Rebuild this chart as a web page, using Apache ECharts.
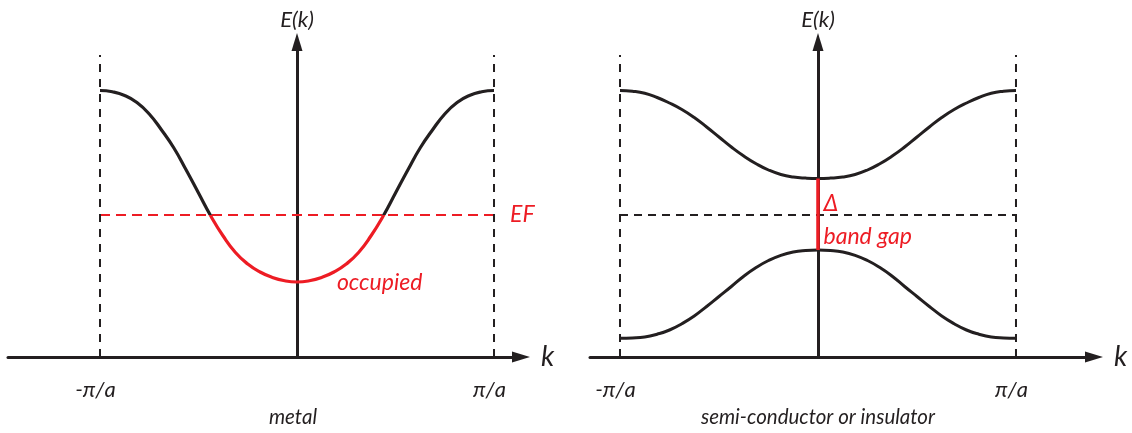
<!DOCTYPE html>
<html>
<head>
<meta charset="utf-8">
<script src="https://cdn.jsdelivr.net/npm/echarts@6/dist/echarts.min.js"></script>
<style>
  html, body { margin: 0; padding: 0; background: #fff; }
  #chart { width: 1132px; height: 433px; }
</style>
</head>
<body>
<div id="chart"></div>
<script>
// Wave-vector samples across the first Brillouin zone, in units of pi/a
const kSamples = [-1, -0.9375, -0.875, -0.8125, -0.75, -0.6875, -0.625, -0.5625,
                  -0.5, -0.4375, -0.375, -0.3125, -0.25, -0.1875, -0.125, -0.0625, 0,
                  0.0625, 0.125, 0.1875, 0.25, 0.3125, 0.375, 0.4375, 0.5,
                  0.5625, 0.625, 0.6875, 0.75, 0.8125, 0.875, 0.9375, 1];

// Single band of a metal
const metalBand = [2.665, 2.652, 2.615, 2.545, 2.43, 2.27, 2.09, 1.87,
                   1.64, 1.41, 1.21, 1.045, 0.93, 0.85, 0.795, 0.762, 0.75,
                   0.762, 0.795, 0.85, 0.93, 1.045, 1.21, 1.41, 1.64,
                   1.87, 2.09, 2.27, 2.43, 2.545, 2.615, 2.652, 2.665];

// Conduction and valence bands of a semi-conductor / insulator
const conductionBand = [2.665, 2.658, 2.638, 2.595, 2.54, 2.475, 2.395, 2.30,
                        2.20, 2.10, 2.01, 1.933, 1.87, 1.825, 1.80, 1.789, 1.785,
                        1.789, 1.80, 1.825, 1.87, 1.933, 2.01, 2.10, 2.20,
                        2.30, 2.395, 2.475, 2.54, 2.595, 2.638, 2.658, 2.665];
const valenceBand = [0.187, 0.19, 0.20, 0.228, 0.27, 0.333, 0.41, 0.505,
                     0.605, 0.705, 0.808, 0.895, 0.965, 1.017, 1.05, 1.065, 1.07,
                     1.065, 1.05, 1.017, 0.965, 0.895, 0.808, 0.705, 0.605,
                     0.505, 0.41, 0.333, 0.27, 0.228, 0.20, 0.19, 0.187];

// Fermi level, zone boundaries and their labels
const fermiLevel = 1.42;
const zoneEdges = [-1, 1];
const zoneEdgeLabels = ['-π/a', 'π/a'];
const zoneLineTop = 3.02;
const energyMax = 3.15;

const panelTitles = ['metal', 'semi-conductor or insulator'];
const bandLabels = { fermi: 'EF', occupied: 'occupied', delta: 'Δ', gap: 'band gap' };

const INK = '#231f20';
const RED = '#ed1c24';
const FONT = 'Lato';

const pairs = ys => kSamples.map((k, i) => [k, ys[i]]);
const centerIdx = kSamples.indexOf(0);

const chart = echarts.init(document.getElementById('chart'));

function xAxisFor(gridIndex, min, max) {
  return {
    type: 'value', gridIndex, min, max,
    splitLine: { show: false },
    axisTick: { show: false },
    axisLine: {
      show: true, onZero: true,
      symbol: ['none', 'triangle'], symbolSize: [11, 18],
      lineStyle: { color: INK, width: 3 }
    },
    axisLabel: {
      customValues: zoneEdges,
      formatter: v => zoneEdgeLabels[zoneEdges.indexOf(v)],
      margin: 22, padding: [0, 9, 0, 0],
      color: INK, fontSize: 22, fontStyle: 'italic', fontFamily: FONT
    },
    name: 'k', nameLocation: 'end', nameGap: 20,
    nameTextStyle: { color: INK, fontSize: 28, fontStyle: 'italic', fontFamily: FONT, padding: [8, 0, 0, 0] }
  };
}

function yAxisFor(gridIndex) {
  return {
    type: 'value', gridIndex, min: 0, max: energyMax,
    splitLine: { show: false },
    axisTick: { show: false },
    axisLabel: { show: false },
    axisLine: {
      show: true, onZero: true,
      symbol: ['none', 'triangle'], symbolSize: [11, 18],
      lineStyle: { color: INK, width: 3 }
    },
    name: 'E(k)', nameLocation: 'end', nameGap: 11,
    nameTextStyle: { color: INK, fontSize: 22, fontStyle: 'italic', fontFamily: FONT }
  };
}

function zoneLines(axisIndex) {
  return zoneEdges.map(k => ({
    type: 'line', xAxisIndex: axisIndex, yAxisIndex: axisIndex,
    data: [[k, 0], [k, zoneLineTop]],
    symbol: 'none', silent: true,
    lineStyle: { color: INK, width: 2, type: [8, 7] }
  }));
}

function bandLine(axisIndex, values, extra) {
  return Object.assign({
    type: 'line', xAxisIndex: axisIndex, yAxisIndex: axisIndex, data: pairs(values),
    smooth: 0.5, symbol: 'none', z: 4,
    lineStyle: { color: INK, width: 3 }
  }, extra || {});
}

const hiddenMark = { symbol: 'circle', symbolSize: 1, itemStyle: { color: 'rgba(0,0,0,0)' } };
const redText = { color: RED, fontSize: 23, fontStyle: 'italic', fontFamily: FONT };

chart.setOption({
  animation: false,
  backgroundColor: '#fff',
  title: panelTitles.map((t, i) => ({
    text: t, left: i === 0 ? 293 : 818, top: 407, textAlign: 'center', padding: 0,
    textStyle: { color: INK, fontSize: 20.5, fontWeight: 'normal', fontStyle: 'italic', fontFamily: FONT }
  })),
  grid: [
    { left: 8, top: 42, width: 513, height: 315 },
    { left: 590, top: 42, width: 504, height: 315 }
  ],
  xAxis: [xAxisFor(0, -1.467, 1.137), xAxisFor(1, -1.1515, 1.394)],
  yAxis: [yAxisFor(0), yAxisFor(1)],
  visualMap: [{
    type: 'piecewise', show: false, seriesIndex: 0, dimension: 1,
    pieces: [
      { gte: 0, lte: fermiLevel, color: RED },
      { gt: fermiLevel, lte: energyMax, color: INK }
    ]
  }],
  series: [
    // metal band, red below the Fermi level
    bandLine(0, metalBand, { lineStyle: { width: 3.2 } }),
    // Fermi level
    {
      type: 'line', xAxisIndex: 0, yAxisIndex: 0,
      data: [[zoneEdges[0], fermiLevel], [zoneEdges[1], fermiLevel]],
      symbol: 'none', z: 3,
      lineStyle: { color: RED, width: 2, type: [10, 6] },
      endLabel: { show: true, formatter: bandLabels.fermi, distance: 16, ...redText },
      markPoint: {
        ...hiddenMark,
        data: [{ coord: [0.19, 0.74], label: { show: true, position: 'right', distance: 2, formatter: bandLabels.occupied, ...redText } }]
      }
    },
    ...zoneLines(0),
    // conduction and valence bands
    bandLine(1, conductionBand),
    bandLine(1, valenceBand),
    // mid-gap level
    {
      type: 'line', xAxisIndex: 1, yAxisIndex: 1,
      data: [[zoneEdges[0], fermiLevel], [zoneEdges[1], fermiLevel]],
      symbol: 'none', z: 3,
      lineStyle: { color: INK, width: 2, type: [8, 6] }
    },
    // band gap at k = 0
    {
      type: 'line', xAxisIndex: 1, yAxisIndex: 1,
      data: [[0, valenceBand[centerIdx]], [0, conductionBand[centerIdx]]],
      symbol: 'none', z: 5,
      lineStyle: { color: RED, width: 3.5 },
      markPoint: {
        ...hiddenMark,
        data: [
          { coord: [0, 1.53], label: { show: true, position: 'right', distance: 5, formatter: bandLabels.delta, ...redText } },
          { coord: [0, 1.20], label: { show: true, position: 'right', distance: 5, formatter: bandLabels.gap, ...redText } }
        ]
      }
    },
    ...zoneLines(1)
  ]
});
</script>
</body>
</html>
